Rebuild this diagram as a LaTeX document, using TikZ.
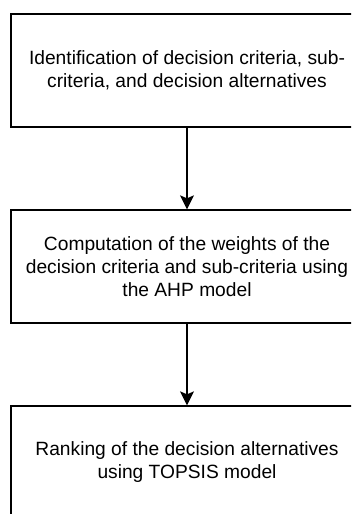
\documentclass[tikz,border=0pt]{standalone}
\usepackage{fontspec}
\setmainfont{Liberation Sans}
\usetikzlibrary{arrows.meta}
\begin{document}
\begin{tikzpicture}[x=1pt,y=-1pt,
  stepbox/.style={draw=black,line width=1.3pt,rectangle,minimum width=352pt,minimum height=113pt,align=center,
    font=\fontsize{19.2}{23}\selectfont,inner sep=0pt},
  flow/.style={draw=black,line width=1.3pt,-{Stealth[length=14pt,width=14pt,inset=3pt]}}]
\useasboundingbox (0,0) rectangle (351,514);
\clip (0,0) rectangle (351,514);
\node[stepbox] (a) at (187,70.5) {Identification of decision criteria, sub-\\criteria, and decision alternatives};
\node[stepbox] (b) at (187,266.5) {Computation of the weights of the\\decision criteria and sub-criteria using\\the AHP model};
\node[stepbox] (c) at (187,462.5) {Ranking of the decision alternatives\\using TOPSIS model};
\draw[flow] (a) -- (b);
\draw[flow] (b) -- (c);
\end{tikzpicture}
\end{document}
